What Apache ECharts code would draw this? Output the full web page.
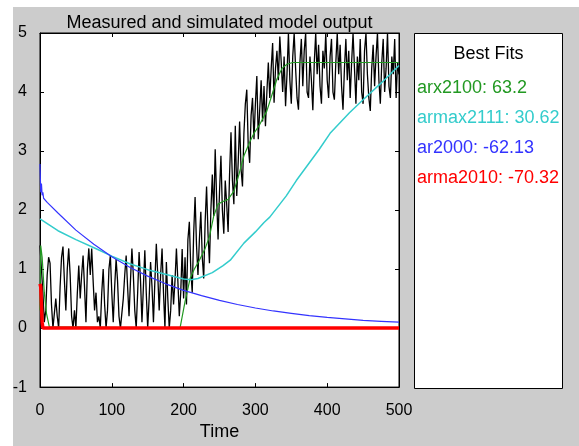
<!DOCTYPE html>
<html><head><meta charset="utf-8">
<script src="https://cdn.jsdelivr.net/npm/echarts@6/dist/echarts.min.js"></script>
<style>html,body{margin:0;padding:0;background:#fff}#c{width:579px;height:446px}</style>
</head><body><div id="c"></div>
<script>
// Sample step of the measured signal
const sampleStep = 2;
// Measured output (t = 0, 2, 4, ... 500)
const measuredValues = [
  1.4,1.43,0.6,0.1,0.3,0.9,1.2,1.1,0.4,0,
  0,0.5,0.2,0,0.7,1.2,1.38,0.8,0.3,1.0,
  1.35,0.9,0.2,0,0.3,0,0.6,1.06,0.5,0.9,
  1.23,0.7,0.1,1.0,1.35,0.9,1.35,0.8,0.3,0.6,
  0.1,0.2,0,0.6,1.0,0.4,0,0.3,1.0,1.23,
  0.6,0.1,0.7,1.17,0.8,0.2,0,0,0.5,0.9,
  1.23,0.7,0.2,0.8,1.35,0.9,0.3,0,0.6,1.29,
  0.8,0.1,0.7,1.32,0.6,0,0.5,1.12,0.7,0.1,
  0.8,1.43,0.9,0.3,0.9,1.35,0.6,0,1.12,0.5,
  0,0.3,0.9,0.4,0.8,1.35,0.8,0.2,0.6,1.34,
  0.5,
  1.2,0.4,1.5,1.8,1.0,0.6,1.6,2.22,1.4,0.9,
  1.5,1.97,1.2,0.84,1.8,2.4,1.6,1.1,2.0,2.6,
  1.9,3.03,2.2,1.5,2.3,2.92,2.0,1.6,2.5,2.1,
  1.63,2.6,3.32,2.5,2.1,3.43,2.24,2.8,3.5,2.7,
  2.4,3.3,3.8,4.04,3.1,2.8,3.6,3.9,3.2,3.8,
  4.27,3.2,3.7,4.2,3.5,4.1,3.42,4.0,4.5,3.9,
  4.4,4.83,3.82,4.4,4.7,
  4.2,4.94,4.5,4.0,4.6,3.76,4.3,5.0,4.2,3.8,
  4.6,5.0,4.4,3.9,3.7,4.5,4.9,4.1,4.7,5.0,
  4.0,3.9,4.6,4.2,3.69,4.5,5.0,4.3,4.8,4.1,
  3.8,4.7,4.4,5.0,4.2,3.9,4.6,4.9,4.0,3.87,
  4.5,5.0,4.3,4.8,4.1,3.7,4.4,4.9,4.2,4.7,
  3.9,4.5,5.0,4.4,3.8,4.6,4.2,4.9,4.0,3.8,
  4.7,5.0,4.3,3.9,3.68,4.4,4.8,4.1,4.6,5.0,
  4.2,3.8,4.5,4.9,4.0,4.4,5.0,4.1,3.9,4.6,
  4.3,4.9,3.9,4.5,4.3
];
// Simulated model outputs [time, value]
const arxPoints = [[0,0.3],[1,1.4],[3,1.2],[6,0.6],[9,0.25],[13,0.02],[15,0],[195,0],[202,0.45],[209,0.84],[215,1.0],[222,1.15],[230,1.35],[236,1.55],[242,1.9],[248,2.1],[254,2.14],[262,2.18],[270,2.32],[277,2.6],[284,2.92],[292,3.15],[298,3.3],[306,3.45],[316,3.68],[323,3.95],[330,4.22],[337,4.4],[344,4.47],[352,4.5],[500,4.5]];
const armaxPoints = [[0,1.85],[2,1.82],[25,1.65],[50,1.5],[79,1.34],[100,1.22],[125,1.09],[150,0.99],[172,0.92],[200,0.83],[210,0.82],[220,0.84],[240,0.94],[255,1.06],[265,1.15],[284,1.44],[300,1.63],[312,1.79],[320,1.88],[343,2.24],[357,2.5],[389,3.03],[404,3.3],[431,3.65],[450,3.87],[475,4.15],[500,4.45]];
const arPoints = [[0,2.78],[1,2.3],[2,2.45],[3,2.25],[4,2.3],[5,2.2],[7,2.18],[10,2.13],[25,1.95],[50,1.66],[75,1.42],[100,1.21],[125,1.03],[150,0.88],[175,0.75],[200,0.64],[225,0.55],[250,0.47],[275,0.4],[300,0.34],[325,0.29],[350,0.25],[375,0.21],[400,0.18],[425,0.155],[450,0.13],[475,0.115],[500,0.1]];
const armaPoints = [[0,0.75],[1,0.7],[3,0.1],[4,0],[500,0]];

const modelNames = ['arx2100','armax2111','ar2000','arma2010'];
const fitValues = ['63.2','30.62','-62.13','-70.32'];
const modelColors = ['#229922','#33cccc','#3333ff','#ff0000'];
const modelWidths = [1.2,1.5,1.2,3.5];
const modelData = [arxPoints, armaxPoints, arPoints, armaPoints];
const xTickInterval = 100, yTickInterval = 1;

const FONT = 'Liberation Sans, Arial, sans-serif';
const chart = echarts.init(document.getElementById('c'));
const seriesNames = modelNames.map((n,i)=> n + ': ' + fitValues[i]);

const axisCommon = {
  type:'value',
  axisLine:{show:true, onZero:false, lineStyle:{color:'#000', width:1}},
  axisTick:{show:true, inside:true, length:4, lineStyle:{color:'#000'}},
  splitLine:{show:false},
  axisLabel:{color:'#000', fontSize:16, fontFamily:FONT}
};

const series = [{
  name:'measured', type:'line', showSymbol:false, animation:false,
  data: measuredValues.map((v,i)=>[i*sampleStep, v]),
  lineStyle:{color:'#000', width:1.3}, itemStyle:{color:'#000'}, z:2
}].concat(modelData.map((d,i)=>({
  name: seriesNames[i], type:'line', showSymbol:false, animation:false,
  data:d, lineStyle:{color:modelColors[i], width:modelWidths[i]},
  itemStyle:{color:modelColors[i]}, z:3+i
})));

chart.setOption({
  animation:false,
  backgroundColor:'#cccccc',
  grid:{left:40, top:33, width:359, height:356, show:true, backgroundColor:'#ffffff', borderColor:'#000', borderWidth:1},
  xAxis:[
    Object.assign({}, axisCommon, {min:0, max:500, interval:xTickInterval, position:'bottom',
      axisLabel:Object.assign({}, axisCommon.axisLabel, {margin:15}),
      name:'Time', nameLocation:'middle', nameGap:34,
      nameTextStyle:{color:'#000', fontSize:18, fontFamily:FONT}}),
    Object.assign({}, axisCommon, {min:0, max:500, interval:xTickInterval, position:'top', axisLabel:{show:false}})
  ],
  yAxis:[
    Object.assign({}, axisCommon, {min:-1, max:5, interval:yTickInterval, position:'left',
      axisLabel:Object.assign({}, axisCommon.axisLabel, {margin:13})}),
    Object.assign({}, axisCommon, {min:-1, max:5, interval:yTickInterval, position:'right', axisLabel:{show:false}})
  ],
  legend:{
    orient:'vertical', left:407, top:74, itemWidth:0, itemHeight:0, itemGap:12,
    selectedMode:false, z:10,
    textStyle:{fontSize:18, fontFamily:FONT},
    data: seriesNames.map((n,i)=>({name:n, icon:'rect', textStyle:{color:modelColors[i]}}))
  },
  graphic:[
    {type:'rect', shape:{x:0,y:0,width:13,height:446}, style:{fill:'#ffffff'}, z:0, silent:true},
    {type:'rect', shape:{x:0,y:0,width:579,height:7}, style:{fill:'#ffffff'}, z:0, silent:true},
    {type:'rect', shape:{x:414.5,y:33.5,width:148,height:355}, style:{fill:'#ffffff', stroke:'#000', lineWidth:1}, z:1, silent:true},
    {type:'text', x:219.5, y:23, z:5, style:{text:'Measured and simulated model output', fill:'#000', font:'18px '+FONT, textAlign:'center', textVerticalAlign:'middle'}},
    {type:'text', x:488.5, y:54, z:5, style:{text:'Best Fits', fill:'#000', font:'18px '+FONT, textAlign:'center', textVerticalAlign:'middle'}}
  ],
  series: series
});
</script></body></html>
